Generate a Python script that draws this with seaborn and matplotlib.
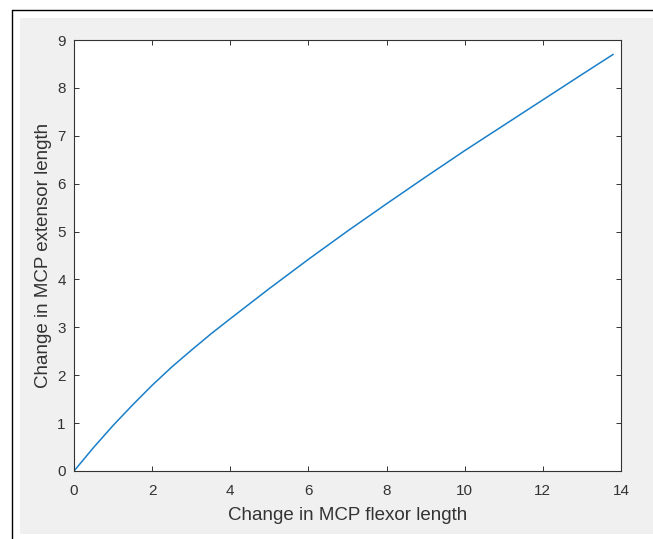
import matplotlib
matplotlib.use("Agg")
import matplotlib.pyplot as plt
import seaborn as sns
import pandas as pd
from matplotlib.patches import Rectangle
from matplotlib.lines import Line2D

# Data
flexor_change = [0, 0.5, 1, 1.5, 2, 2.5, 3, 3.5, 4, 5, 6, 7, 8, 9, 10, 11, 12, 13, 13.8]
extensor_change = [0, 0.49, 0.95, 1.38, 1.79, 2.17, 2.52, 2.86, 3.18, 3.81, 4.42, 5.01, 5.58, 6.14, 6.69, 7.22, 7.75, 8.28, 8.70]
x_ticks = [0, 2, 4, 6, 8, 10, 12, 14]
y_ticks = [0, 1, 2, 3, 4, 5, 6, 7, 8, 9]
x_label = "Change in MCP flexor length"
y_label = "Change in MCP extensor length"

sns.set_style("white")
plt.rcParams["font.family"] = ["Liberation Sans", "DejaVu Sans"]

W, H = 653, 539
fig = plt.figure(figsize=(W / 100, H / 100), dpi=100)
fig.patch.set_facecolor("white")

# window frame (black lines) and gray figure area
fig.add_artist(Rectangle((20 / W, (H - 534) / H), (W - 20) / W, (534 - 18) / H,
                         transform=fig.transFigure, facecolor="#f0f0f0", edgecolor="none", zorder=0))
fig.add_artist(Line2D([12.5 / W, 12.5 / W], [0, (H - 9.5) / H], transform=fig.transFigure,
                      color="black", lw=1.0))
fig.add_artist(Line2D([12.5 / W, 1], [(H - 9.5) / H, (H - 9.5) / H], transform=fig.transFigure,
                      color="black", lw=1.0))

ax = fig.add_axes([74 / W, (H - 471) / H, (621 - 74) / W, (471 - 40) / H])
ax.set_facecolor("white")

df = pd.DataFrame({"flexor": flexor_change, "extensor": extensor_change})
sns.lineplot(data=df, x="flexor", y="extensor", ax=ax, color="#1a7fc8", linewidth=1.1, sort=False)

ax.set_xlim(0, 14)
ax.set_ylim(0, 9)
ax.set_xticks(x_ticks)
ax.set_yticks(y_ticks)
ax.set_xlabel(x_label, fontsize=13.5, color="#333333", labelpad=6)
ax.set_ylabel(y_label, fontsize=13.5, color="#333333", labelpad=4)

for s in ax.spines.values():
    s.set_visible(True)
    s.set_color("#333333")
    s.set_linewidth(0.8)
ax.tick_params(axis="both", which="both", direction="in", length=3.6, width=0.7,
               colors="#333333", labelsize=11, top=True, right=True, bottom=True, left=True,
               labelcolor="#333333")
ax.tick_params(axis="x", pad=9.5)
ax.tick_params(axis="y", pad=6)

fig.savefig("out.png", dpi=100, facecolor=fig.get_facecolor())
